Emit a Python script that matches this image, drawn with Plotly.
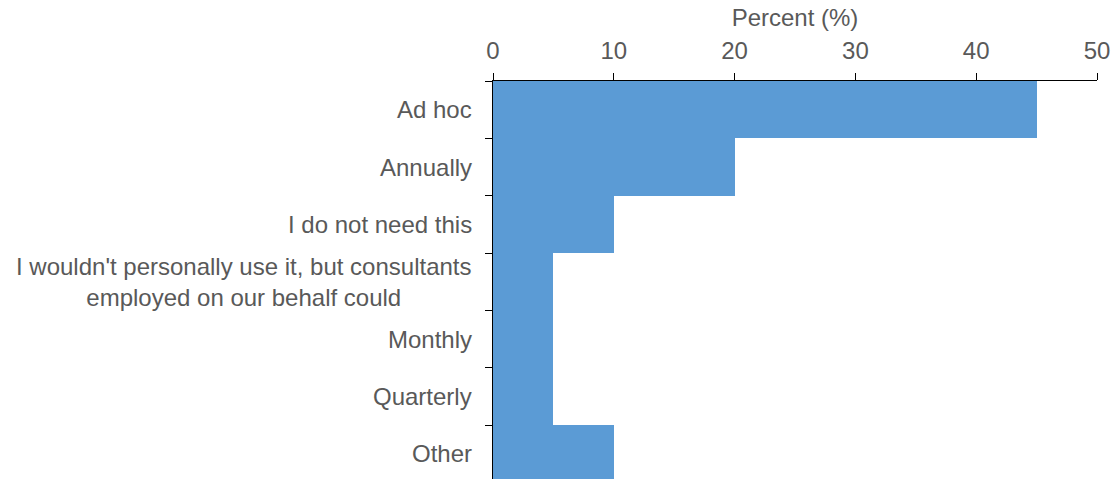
import plotly.graph_objects as go

categories = [
    "Ad hoc",
    "Annually",
    "I do not need this",
    "I wouldn't personally use it, but consultants<br>employed on our behalf could",
    "Monthly",
    "Quarterly",
    "Other",
]
percent = [45, 20, 10, 5, 5, 5, 10]
x_ticks = [0, 10, 20, 30, 40, 50]

TEXT = "#595959"
FONT = "Liberation Sans, Arial, sans-serif"
FS = 24

fig = go.Figure(
    go.Bar(
        x=percent,
        y=categories,
        orientation="h",
        marker=dict(color="#5B9BD5", line=dict(width=0)),
    )
)

for cat in categories:
    fig.add_annotation(
        x=0, xref="paper", y=cat, yref="y",
        xanchor="right", yanchor="middle", xshift=-19,
        text=cat, showarrow=False, align="center",
        font=dict(family=FONT, size=FS, color=TEXT),
    )

fig.update_layout(
    width=1112, height=479,
    margin=dict(l=493, r=15, t=81, b=0),
    paper_bgcolor="white", plot_bgcolor="white",
    bargap=0,
    showlegend=False,
    font=dict(family=FONT, size=FS, color=TEXT),
    xaxis=dict(
        side="top", range=[0, 50], tickvals=x_ticks,
        showgrid=False, zeroline=False,
        showline=True, linecolor="#000000", linewidth=1,
        ticks="outside", ticklen=7, tickcolor="#000000",
        ticklabelstandoff=4, ticklabeloverflow="allow",
        tickfont=dict(family=FONT, size=FS, color=TEXT),
        title=dict(text="Percent (%)", font=dict(family=FONT, size=FS, color=TEXT), standoff=4),
    ),
    yaxis=dict(
        type="category", range=[6.44, -0.5],
        showticklabels=False,
        showgrid=False, zeroline=False,
        showline=True, linecolor="#000000", linewidth=1,
        ticks="outside", ticklen=7, tickcolor="#000000",
        tickson="boundaries",
    ),
)

# remove the default 8px page margin so the figure fills the window exactly
fig.write_html(
    "out.html",
    config={"displayModeBar": False},
    post_script="document.body.style.margin='0';document.documentElement.style.overflow='hidden';",
)
